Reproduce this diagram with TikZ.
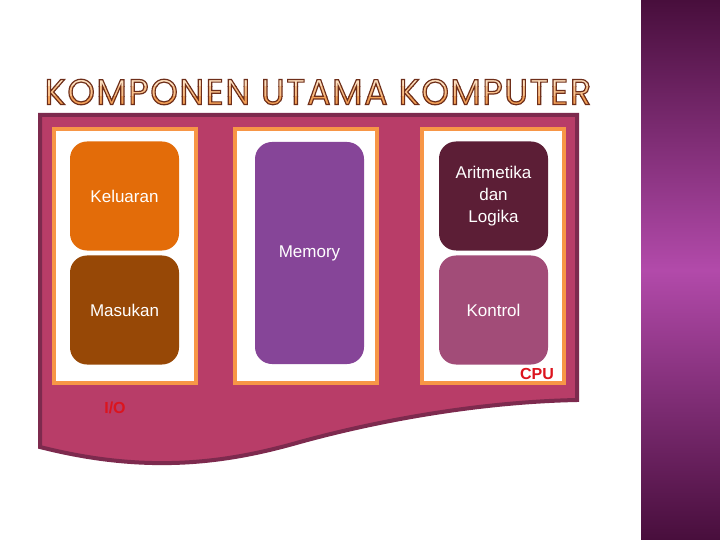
\documentclass[tikz,border=0pt]{standalone}
\usepackage{fontspec}
\setmainfont{Liberation Sans}
\newfontfamily\titlefont[LetterSpace=5]{Poppins}
\definecolor{banner}{RGB}{184,61,104}
\definecolor{bannerdark}{RGB}{125,42,78}
\definecolor{frameor}{RGB}{247,150,70}
\definecolor{keluar}{RGB}{227,108,9}
\definecolor{masuk}{RGB}{151,72,6}
\definecolor{mem}{RGB}{134,69,152}
\definecolor{alu}{RGB}{92,30,54}
\definecolor{ctrl}{RGB}{162,76,120}
\definecolor{lblred}{RGB}{220,20,30}
\definecolor{titletop}{RGB}{253,222,188}
\definecolor{titlemid}{RGB}{249,192,138}
\definecolor{titlebot}{RGB}{242,160,88}
\definecolor{bardark}{RGB}{72,14,60}
\definecolor{barlight}{RGB}{178,74,170}
\newcommand{\titletext}{\special{pdf:literal direct 2 Tr 1.2 w 0.43 0.18 0.1 RG}KOMPONEN UTAMA KOMPUTER\special{pdf:literal direct 0 Tr}}
\begin{document}
\begin{tikzpicture}[x=1bp,y=-1bp,
  unit/.style={rounded corners=17bp, minimum width=109bp, minimum height=109bp, inner sep=0pt,
    text=white, font=\fontsize{17bp}{22bp}\selectfont, align=center},
  holder/.style={draw=frameor, line width=4bp, fill=white, minimum width=142bp, minimum height=254bp, inner sep=0pt},
  tag/.style={text=lblred, font=\bfseries\fontsize{16bp}{19bp}\selectfont, inner sep=0pt},
  ttl/.style={font=\titlefont\fontsize{36bp}{36bp}\selectfont, inner sep=0pt, xscale=0.97}]
\useasboundingbox (0,0) rectangle (720,540);
\fill[white] (0,0) rectangle (720,540);
% right decorative bar
\shade[top color=bardark, bottom color=bardark, middle color=barlight] (641,0) rectangle (720,540);
% title
\begin{scope}
  \clip (30,60) rectangle (610,87);
  \node[ttl, text=titletop] (title) at (318,92) {\titletext};
\end{scope}
\begin{scope}
  \clip (30,87) rectangle (610,97);
  \node[ttl, text=titlemid] at (318,92) {\titletext};
\end{scope}
\begin{scope}
  \clip (30,97) rectangle (610,120);
  \node[ttl, text=titlebot] at (318,92) {\titletext};
\end{scope}
% banner
\filldraw[fill=banner, draw=bannerdark, line width=4bp, line join=miter]
  (40,115) -- (577,115) -- (577,400)
  .. controls (480,402) and (380,420) .. (300,442)
  .. controls (230,462) and (150,475) .. (40,447) -- cycle;
% holders
\node[holder] (io) at (125,256) {};
\node[holder] (memh) at (306,256) {};
\node[holder] (cpu) at (493,256) {};
% units
\node[unit, fill=keluar] (kel) at (124.5,196) {Keluaran};
\node[unit, fill=masuk] (mas) at (124.5,310) {Masukan};
\node[unit, fill=mem, minimum height=222bp] (memory) at (309.5,253) {Memory};
\node[unit, fill=alu] (alu) at (493.5,196) {Aritmetika\\dan\\Logika};
\node[unit, fill=ctrl] (kon) at (493.5,310) {Kontrol};
% labels
\node[tag] (cpulbl) at (537,374) {CPU};
\node[tag] (iolbl) at (115,408) {I/O};
\end{tikzpicture}
\end{document}
